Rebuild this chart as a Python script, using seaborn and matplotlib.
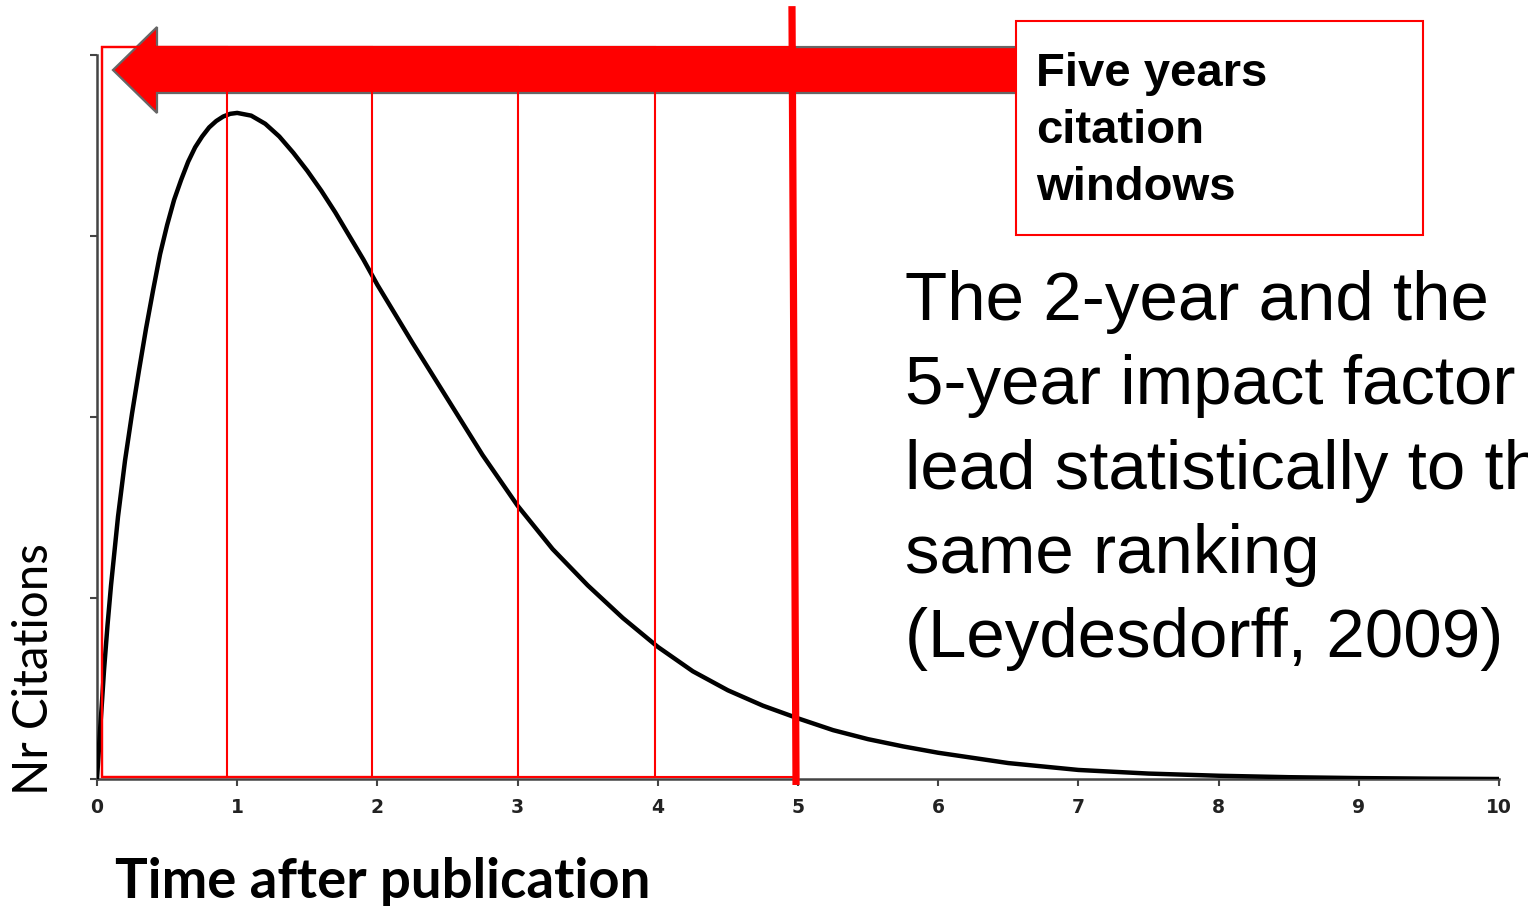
import numpy as np
import pandas as pd
import matplotlib
matplotlib.use("Agg")
import matplotlib.pyplot as plt
import seaborn as sns
from matplotlib.patches import Rectangle, FancyArrow

# ---------------- data ----------------
years = [0.0, 0.01, 0.02, 0.035, 0.05, 0.075, 0.1, 0.15, 0.2, 0.25, 0.3, 0.35,
         0.4, 0.45, 0.5, 0.55, 0.6, 0.65, 0.7, 0.75, 0.8, 0.85, 0.9, 0.95,
         1.0, 1.1, 1.2, 1.3, 1.4, 1.5, 1.6, 1.7, 1.8, 1.9, 2.0, 2.25, 2.5, 2.75,
         3.0, 3.25, 3.5, 3.75, 4.0, 4.25, 4.5, 4.75, 5.0, 5.25, 5.5, 5.75, 6.0,
         6.5, 7.0, 7.5, 8.0, 8.5, 9.0, 9.5, 10.0]
citations = [0.0, 0.12, 0.25, 0.42, 0.60, 0.85, 1.07, 1.45, 1.76, 2.02, 2.26, 2.49,
             2.70, 2.90, 3.06, 3.20, 3.31, 3.41, 3.49, 3.55, 3.60, 3.635, 3.66, 3.675,
             3.68, 3.665, 3.62, 3.55, 3.46, 3.36, 3.25, 3.13, 3.00, 2.87, 2.73, 2.41,
             2.10, 1.79, 1.51, 1.27, 1.07, 0.89, 0.73, 0.595, 0.49, 0.405, 0.335, 0.27,
             0.22, 0.18, 0.145, 0.088, 0.05, 0.03, 0.018, 0.010, 0.005, 0.002, 0.0]
x_ticks = [0, 1, 2, 3, 4, 5, 6, 7, 8, 9, 10]
x_tick_labels = [str(t) for t in x_ticks]
y_ticks = [0, 1, 2, 3, 4]
window_start = 0.036
window_ends = [0.93, 1.96, 3.0, 3.98, 4.98]
box_lines = ["Five years", "citation", "windows"]
note_lines = ["The 2-year and the", "5-year impact factor",
              "lead statistically to the", "same ranking", "(Leydesdorff, 2009)"]
x_label = "Time after publication"
y_label = "Nr Citations"

# ---------------- style ----------------
sns.set_theme(style="ticks")
plt.rcParams['font.family'] = ['DejaVu Sans']

W, H = 1528, 906
fig = plt.figure(figsize=(W / 100, H / 100), dpi=100)
fig.patch.set_facecolor("white")

def fx(px):
    return px / W

def fy(py):
    return 1 - py / H

ax = fig.add_axes([fx(97), fy(779), (1499 - 97) / W, (779 - 55) / H])
ax.set_facecolor("white")

df = pd.DataFrame({"year": years, "citations": citations})
sns.lineplot(data=df, x="year", y="citations", ax=ax, color="black",
             linewidth=3.2, zorder=3)
for ln in ax.get_lines():
    ln.set_solid_joinstyle("round")
    ln.set_solid_capstyle("round")

ax.set_xlim(0, 10)
ax.set_ylim(0, 4)
ax.set_xticks(x_ticks)
ax.set_xticklabels(x_tick_labels, fontweight="bold", fontsize=13.5, color="#222222")
ax.set_yticks(y_ticks)
ax.set_yticklabels([])
ax.set_xlabel("")
ax.set_ylabel("")
ax.tick_params(axis="both", direction="out", length=5, width=1.5,
               color="#444444", pad=9)
sns.despine(ax=ax)
for s in ["left", "bottom"]:
    ax.spines[s].set_linewidth(1.8)
    ax.spines[s].set_color("#444444")

# ---------------- big arrow ----------------
arrow_y = 3.917
tail_x, tip_x = 6.58, 0.114
arr = FancyArrow(tail_x, arrow_y, tip_x - tail_x, 0, width=0.254,
                 head_width=0.475, head_length=0.314, length_includes_head=True,
                 fc="#ff0000", ec="#666666", lw=1.6, clip_on=False, zorder=2)
ax.add_patch(arr)

# ---------------- citation windows ----------------
top_y, bot_y = 4.044, 0.01
for end in window_ends:
    ax.add_patch(Rectangle((window_start, bot_y), end - window_start, top_y - bot_y,
                           fill=False, ec="#ff0000", lw=1.5, clip_on=False, zorder=4))

# thick 5-year marker
ax.plot([4.957, 4.986], [4.27, -0.033], color="#ff0000", lw=5.2,
        solid_capstyle="butt", clip_on=False, zorder=5)

# ---------------- text box ----------------
fig.add_artist(Rectangle((fx(1016), fy(235)), (1423 - 1016) / W, (235 - 21) / H,
                         transform=fig.transFigure, fc="white", ec="#ff0000",
                         lw=1.5, zorder=6))
for i, line in enumerate(box_lines):
    fig.text(fx(1036), fy(86 + 57 * i), line, fontsize=34, fontweight="bold",
             family=["Liberation Sans", "DejaVu Sans"], va="baseline", ha="left",
             color="black", zorder=7)

for i, line in enumerate(note_lines):
    fig.text(fx(905), fy(320 + 84.3 * i), line, fontsize=49.8,
             family=["Liberation Sans", "DejaVu Sans"], va="baseline", ha="left",
             color="black", zorder=7)

# ---------------- axis labels (fitted to measured extents) ----------------
renderer = fig.canvas.get_renderer()

xl = fig.text(fx(115), fy(898), x_label, fontsize=30, fontweight="bold",
              family=["Lato", "DejaVu Sans"], va="baseline", ha="left", color="black")
bb = xl.get_window_extent(renderer)
xl.set_fontsize(30 * 535 / bb.width)

yl = fig.text(fx(12), fy(795), y_label, fontsize=30, rotation=90,
              family=["Lato", "DejaVu Sans"], va="bottom", ha="left", color="black")
bb = yl.get_window_extent(renderer)
yl.set_fontsize(30 * 252 / bb.height)

fig.savefig("out.png", dpi=100, facecolor="white")
